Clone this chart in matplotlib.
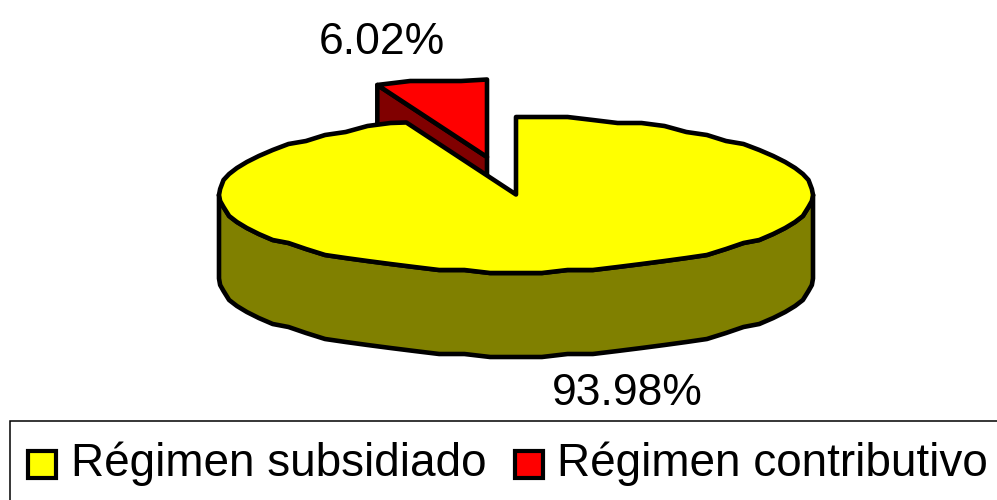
import numpy as np
import matplotlib
matplotlib.use("Agg")
import matplotlib.pyplot as plt
from matplotlib.patches import Polygon, Rectangle

plt.rcParams["font.family"] = ["Liberation Sans", "DejaVu Sans"]

categories = ["Régimen subsidiado", "Régimen contributivo"]
shares = [93.98, 6.02]
share_labels = ["93.98%", "6.02%"]
top_colors = ["#FFFF00", "#FF0000"]
side_colors = ["#808000", "#800000"]

CX, CY = 516, 194.5
RX, RY = 297, 77.5
DEPTH = 84
EXPLODE = (-29, -37.5)
LW = 3.3
SNAP = 3.0
STEP = 5.0


def arc(a0, a1, cx, cy):
    # angles clockwise from 12 o'clock, same step everywhere so the edges line up
    inner = np.arange(np.ceil(a0 / STEP), np.floor(a1 / STEP) + 1) * STEP
    ang = np.unique(np.concatenate([[a0], inner, [a1]]))
    t = np.radians(ang)
    pts = np.column_stack([cx + RX * np.sin(t), cy - RY * np.cos(t)])
    # the original outline looks low-res, so step the y values a little
    pts[1:-1, 1] = np.round(pts[1:-1, 1] / SNAP) * SNAP
    return pts


def poly(ax, pts, color, z):
    ax.add_patch(Polygon(pts, closed=True, facecolor=color, edgecolor="black",
                         linewidth=LW, joinstyle="round", zorder=z))


fig = plt.figure(figsize=(9.97, 5), dpi=100)
ax = fig.add_axes([0, 0, 1, 1])
ax.set_xlim(0, 997)
ax.set_ylim(500, 0)
ax.axis("off")

big_angle = shares[0] / sum(shares) * 360
small_angle = shares[1] / sum(shares) * 360

# small slice, pulled out, drawn first so the big one covers it
sx, sy = CX + EXPLODE[0], CY + EXPLODE[1]
small_top = arc(-small_angle, 0, sx, sy)
left_pt = small_top[0]
apex = np.array([sx, sy])
poly(ax, [left_pt, apex, apex + [0, DEPTH], left_pt + [0, DEPTH]], side_colors[1], 2)
poly(ax, np.vstack([[apex], small_top]), top_colors[1], 3)

# big slice: wall then top
front = arc(90, 270, CX, CY)
wall = np.vstack([front, (front + [0, DEPTH])[::-1]])
poly(ax, wall, side_colors[0], 4)
big_top = arc(0, big_angle, CX, CY)
poly(ax, np.vstack([[[CX, CY]], big_top]), top_colors[0], 5)

ax.text(382, 54, share_labels[1], fontsize=32, ha="center", va="baseline")
ax.text(627, 405, share_labels[0], fontsize=32, ha="center", va="baseline")

# legend box runs off the right and bottom of the picture
ax.add_patch(Rectangle((10, 421), 1100, 200, facecolor="white", edgecolor="black",
                       linewidth=1.1, clip_on=True, zorder=6))
for name, col, sw_x, tx_x in zip(categories, top_colors, [28, 515], [71, 557]):
    ax.add_patch(Rectangle((sw_x, 451), 28, 27, facecolor=col, edgecolor="black",
                           linewidth=3.0, zorder=7))
    ax.text(tx_x, 476, name, fontsize=33, ha="left", va="baseline", zorder=7)

fig.savefig("out.png", dpi=100)
plt.close(fig)
